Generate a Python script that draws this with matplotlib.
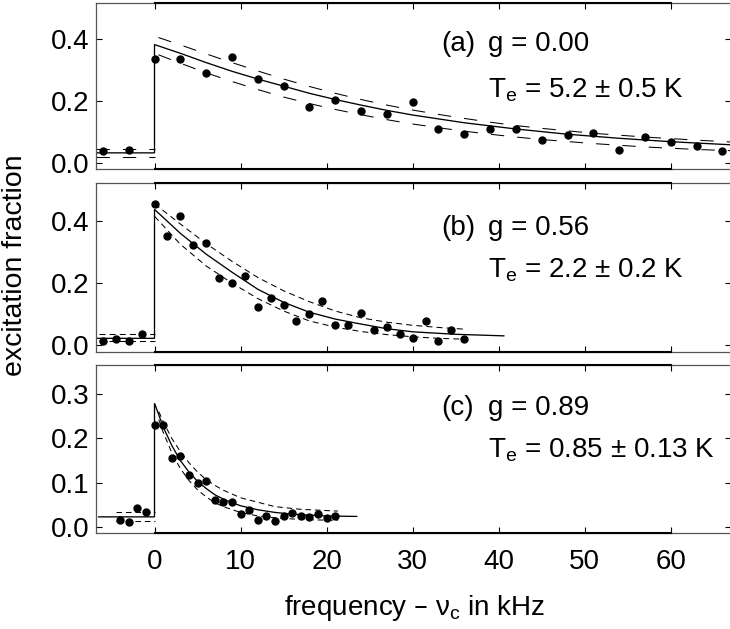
"""Excitation fraction vs detuning for three coupling strengths g (stacked panels)."""
import matplotlib
matplotlib.use("Agg")
import matplotlib.pyplot as plt

plt.rcParams["font.family"] = ["Liberation Sans", "DejaVu Sans"]
plt.rcParams["mathtext.default"] = "regular"
plt.rcParams["lines.scale_dashes"] = False

# ---- panel (a): g = 0.00 ----
freq_a = [-6, -3, 0, 3, 6, 9, 12, 15, 18, 21, 24, 27, 30, 33, 36, 39, 42, 45,
          48, 51, 54, 57, 60, 63, 66]
frac_a = [0.040, 0.044, 0.335, 0.335, 0.291, 0.344, 0.273, 0.250, 0.181, 0.206,
          0.168, 0.158, 0.198, 0.110, 0.094, 0.110, 0.110, 0.074, 0.092, 0.097,
          0.043, 0.084, 0.070, 0.057, 0.040]
fit_freq_a = [-6.8, 0, 0, 3, 6, 9, 12, 15, 18, 21, 24, 27, 30, 36, 42, 48, 54, 60, 67]
fit_a = [0.034, 0.034, 0.383, 0.355, 0.325, 0.297, 0.272, 0.249, 0.226, 0.206,
         0.188, 0.171, 0.156, 0.131, 0.111, 0.094, 0.081, 0.070, 0.060]
base_freq_a = [-6.8, 0]
base_hi_a = [0.045, 0.045]
base_lo_a = [0.021, 0.021]
band_freq_a = [0, 3, 6, 9, 12, 15, 18, 21, 24, 27, 30, 33, 36, 39, 42, 45, 51, 57, 63, 67]
band_hi_a = [0.410, 0.382, 0.353, 0.325, 0.298, 0.272, 0.248, 0.226, 0.206, 0.188,
             0.172, 0.158, 0.145, 0.133, 0.122, 0.113, 0.097, 0.085, 0.075, 0.069]
band_lo_a = [0.355, 0.323, 0.292, 0.264, 0.238, 0.214, 0.193, 0.174, 0.157, 0.141,
             0.127, 0.115, 0.104, 0.094, 0.085, 0.077, 0.064, 0.053, 0.045, 0.041]

# ---- panel (b): g = 0.56 ----
freq_b = [-6, -4.5, -3, -1.5, 0, 1.5, 3, 4.5, 6, 7.5, 9, 10.5, 12, 13.5, 15, 16.5,
          18, 19.5, 21, 22.5, 24, 25.5, 27, 28.5, 30, 31.5, 33, 34.5, 36]
frac_b = [0.015, 0.020, 0.015, 0.036, 0.453, 0.352, 0.417, 0.323, 0.330, 0.216,
          0.200, 0.224, 0.122, 0.151, 0.130, 0.079, 0.101, 0.143, 0.064, 0.064,
          0.102, 0.049, 0.059, 0.036, 0.022, 0.079, 0.015, 0.050, 0.021]
fit_freq_b = [-6.8, 0, 0, 3, 6, 9, 12, 15, 18, 21, 24, 27, 30, 35, 40.6]
fit_b = [0.022, 0.022, 0.437, 0.360, 0.293, 0.235, 0.180, 0.138, 0.106, 0.084,
         0.068, 0.053, 0.043, 0.035, 0.030]
base_freq_b = [-6.5, 0]
base_hi_b = [0.036, 0.036]
base_lo_b = [0.013, 0.013]
band_freq_b = [0, 3, 6, 9, 12, 15, 18, 21, 24, 27, 30, 33, 36.3]
band_hi_b = [0.455, 0.390, 0.327, 0.270, 0.218, 0.175, 0.140, 0.110, 0.088, 0.074,
             0.064, 0.057, 0.051]
band_lo_b = [0.415, 0.325, 0.255, 0.200, 0.150, 0.110, 0.078, 0.058, 0.044, 0.034,
             0.027, 0.022, 0.019]

# ---- panel (c): g = 0.89 ----
freq_c = [-4, -3, -2, -1, 0, 1, 2, 3, 4, 5, 6, 7, 8, 9, 10, 11, 12, 13, 14, 15,
          16, 17, 18, 19, 20, 21]
frac_c = [0.017, 0.012, 0.044, 0.035, 0.229, 0.229, 0.156, 0.159, 0.117, 0.099,
          0.104, 0.062, 0.056, 0.056, 0.030, 0.038, 0.017, 0.026, 0.013, 0.026,
          0.032, 0.026, 0.022, 0.030, 0.021, 0.026]
fit_freq_c = [-6.5, 0, 0, 1, 2, 3, 4, 5, 6, 7, 8, 9, 10, 12, 14, 16, 18, 20, 23.5]
fit_c = [0.023, 0.023, 0.279, 0.226, 0.184, 0.150, 0.124, 0.103, 0.087, 0.073,
         0.063, 0.055, 0.048, 0.039, 0.033, 0.029, 0.027, 0.025, 0.024]
base_freq_c = [-4.5, 0]
base_hi_c = [0.035, 0.035]
base_lo_c = [0.014, 0.014]
band_freq_c = [0.5, 1, 2, 3, 4, 5, 6, 7, 8, 10, 12, 14, 17, 21.3]
band_hi_c = [0.260, 0.238, 0.200, 0.170, 0.145, 0.124, 0.107, 0.094, 0.083, 0.066,
             0.056, 0.046, 0.040, 0.036]
band_lo_c = [0.242, 0.214, 0.168, 0.132, 0.105, 0.084, 0.068, 0.055, 0.046, 0.033,
             0.025, 0.021, 0.017, 0.015]

labels = ["(a)", "(b)", "(c)"]
g_text = ["g = 0.00", "g = 0.56", "g = 0.89"]
temp_text = [r"T$_{e}$ = 5.2 ± 0.5 K", r"T$_{e}$ = 2.2 ± 0.2 K",
             r"T$_{e}$ = 0.85 ± 0.13 K"]
yticks = [[0.0, 0.2, 0.4], [0.0, 0.2, 0.4], [0.0, 0.1, 0.2, 0.3]]
ylims = [(-0.018, 0.518), (-0.021, 0.521), (-0.014, 0.365)]
xticks = [0, 10, 20, 30, 40, 50, 60]

panels = [
    (freq_a, frac_a, fit_freq_a, fit_a, base_freq_a, base_hi_a, base_lo_a,
     band_freq_a, band_hi_a, band_lo_a, (0, (9.6, 9.4)), (16, (9.6, 9.4))),
    (freq_b, frac_b, fit_freq_b, fit_b, base_freq_b, base_hi_b, base_lo_b,
     band_freq_b, band_hi_b, band_lo_b, (0, (4.3, 3.0)), (0, (4.3, 3.0))),
    (freq_c, frac_c, fit_freq_c, fit_c, base_freq_c, base_hi_c, base_lo_c,
     band_freq_c, band_hi_c, band_lo_c, (0, (4.0, 2.8)), (0, (4.0, 2.8))),
]

W, H = 730, 629
fig = plt.figure(figsize=(W / 100, H / 100), dpi=100)
# (top, bottom) of each panel in pixels
boxes = [(2.7, 169.0), (183.3, 351.7), (365.0, 533.3)]
left_px, right_px = 96.0, 731.0

FS_TICK = 20
FS_TEXT = 20

axes = []
for i, (top, bot) in enumerate(boxes):
    ax = fig.add_axes([left_px / W, 1 - bot / H, (right_px - left_px) / W, (bot - top) / H])
    axes.append(ax)
    (fx, fy, lx, ly, bx, bhi, blo, dx, dhi, dlo, base_ls, band_ls) = panels[i]

    ax.plot(lx, ly, color="black", lw=0.95, solid_joinstyle="miter")
    ax.plot(bx, bhi, color="black", lw=0.75, linestyle=base_ls)
    ax.plot(bx, blo, color="black", lw=0.75, linestyle=base_ls)
    ax.plot(dx, dhi, color="black", lw=0.75, linestyle=band_ls)
    ax.plot(dx, dlo, color="black", lw=0.75, linestyle=band_ls)
    ax.plot(fx, fy, "o", color="black", ms=5, zorder=5)

    ax.set_xlim(-6.8, 67.0)
    ax.set_ylim(*ylims[i])
    ax.set_xticks(xticks)
    ax.set_yticks(yticks[i])
    ax.set_yticklabels([f"{v:.1f}" for v in yticks[i]])
    ax.tick_params(direction="in", length=4.3, width=0.8, top=True, right=True,
                   labelsize=FS_TICK)
    ax.tick_params(axis="y", pad=5)
    ax.tick_params(axis="x", pad=11.5)
    if i < 2:
        ax.tick_params(labelbottom=False)
    for sp in ax.spines.values():
        sp.set_color("#555555")
        sp.set_linewidth(0.9)

    # darker frame segment between the outer ticks, as in the original
    for yy in (0, 1):
        ax.plot([0, 60], [yy, yy], color="black", lw=1.5,
                transform=ax.get_xaxis_transform(), clip_on=False, zorder=6)

    ytop = [44, 228, 408][i]
    ybot = [90, 270, 450][i]
    fig.text(441 / W, 1 - ytop / H, labels[i], fontsize=FS_TEXT, va="center", ha="left")
    fig.text(488 / W, 1 - ytop / H, g_text[i], fontsize=FS_TEXT, va="center", ha="left")
    fig.text(488 / W, 1 - ybot / H, temp_text[i], fontsize=FS_TEXT, va="center", ha="left")

fig.text(15 / W, 1 - 265.5 / H, "excitation fraction", rotation=90, fontsize=20.5,
         va="center", ha="center")
fig.text(415 / W, 1 - 608 / H, r"frequency – ν$_{c}$ in kHz", fontsize=FS_TEXT,
         va="center", ha="center")

fig.savefig("out.png", dpi=100)
print("wrote out.png")
